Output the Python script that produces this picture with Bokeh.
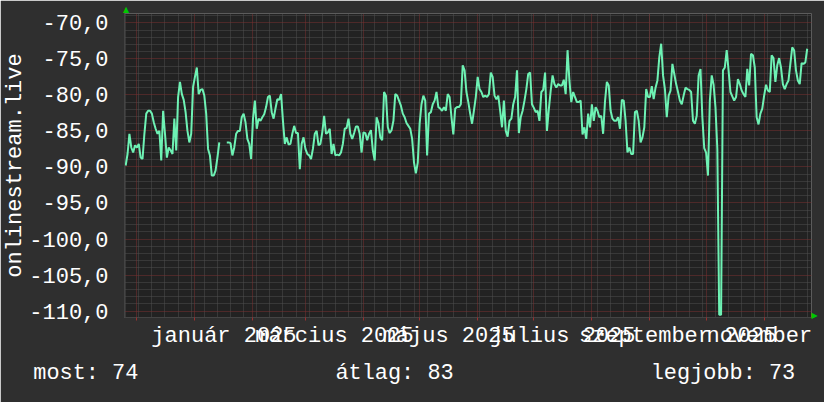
import numpy as np
import pandas as pd
from bokeh.plotting import figure
from bokeh.models import Range1d, FixedTicker, Grid, ColumnDataSource, LinearAxis, Title
from bokeh.embed import file_html
from bokeh.resources import INLINE

nan = float("nan")

# ---- data (daily values) ----
start_date = "2024-11-25"
signal = [
    -89.8, -88.2, -85.4, -87.3, -88.0, -87.0,
    -87.3, -86.8, -88.7, -88.9, -85.4, -82.6, -82.2, -82.2, -82.6, -83.8,
    -84.7, -85.4, -85.0, -89.1, -82.2, -85.4, -88.7, -87.3, -87.7, -88.2,
    -83.3, -87.7, -80.3, -78.2, -79.9, -80.7, -82.4, -85.0, -86.6, -85.4,
    -78.9, -77.5, -76.2, -79.9, -79.3, -79.2, -80.1, -82.6, -87.5, -88.4,
    -91.2, -91.2, -90.5, -88.7, -86.6, nan, nan, nan, -86.6, -86.6,
    -86.7, -88.4, -87.3, -85.4, -85.0, -85.0, -83.1, -82.6, -83.8, -86.1,
    -86.8, -88.9, -83.3, -80.8, -84.7, -83.3, -83.6, -83.1, -82.7, -81.7,
    -80.3, -80.1, -82.4, -83.3, -81.9, -80.6, -80.7, -79.9, -83.6, -86.8,
    -85.9, -86.9, -86.8, -85.4, -84.3, -85.3, -85.3, -90.3, -86.8, -85.9,
    -87.5, -88.2, -88.4, -88.9, -87.5, -85.4, -85.0, -87.0, -86.8, -85.2,
    -82.9, -85.4, -85.2, -84.7, -88.2, -86.8, -88.4, -88.3, -88.4, -88.0,
    -86.8, -84.7, -84.6, -83.3, -85.4, -86.1, -85.3, -84.4, -84.4, -85.4,
    -88.0, -85.2, -85.3, -86.3, -85.4, -84.9, -87.7, -89.1, -83.1, -83.9,
    -85.9, -86.3, -79.6, -80.1, -84.5, -85.3, -84.9, -83.6, -79.9, -80.1,
    -80.8, -81.5, -82.6, -83.1, -83.9, -84.3, -84.7, -86.1, -89.4, -90.9,
    -89.4, -84.0, -81.3, -80.1, -80.8, -88.4, -82.6, -82.4, -81.3, -80.8,
    -79.6, -81.7, -81.9, -82.2, -81.7, -82.2, -79.9, -80.3, -83.1, -85.5,
    -81.9, -81.7, -81.7, -81.3, -75.9, -76.6, -79.6, -81.0, -82.6, -84.0,
    -82.2, -80.3, -77.5, -79.2, -79.6, -80.3, -80.1, -80.3, -79.9, -76.9,
    -77.5, -80.1, -80.6, -80.1, -82.2, -84.5, -80.8, -85.0, -85.8, -83.6,
    -83.3, -81.3, -80.3, -76.6, -85.3, -83.1, -82.2, -80.8, -79.2, -77.1,
    -76.9, -81.3, -81.8, -82.4, -82.2, -83.6, -79.6, -79.3, -76.9, -85.0,
    -82.0, -79.4, -77.3, -78.5, -79.0, -78.5, -78.7, -78.7, -77.9, -79.9,
    -73.8, -78.0, -81.0, -79.6, -80.3, -81.0, -81.0, -80.8, -85.5, -84.5,
    -86.1, -82.6, -84.5, -81.3, -83.6, -81.7, -82.2, -83.1, -82.9, -85.4,
    -80.9, -78.2, -78.7, -82.2, -83.3, -83.6, -83.6, -83.1, -84.7, -80.7,
    -80.8, -83.6, -88.0, -87.3, -88.2, -88.2, -82.4, -82.2, -83.6, -86.6,
    -85.9, -84.5, -79.2, -80.3, -80.3, -78.8, -80.6, -79.0, -78.0, -74.8,
    -72.9, -77.3, -79.2, -83.1, -80.1, -79.4, -75.7, -77.1, -78.5, -79.6,
    -80.8, -81.3, -80.1, -79.0, -79.2, -79.3, -79.6, -83.6, -84.0, -82.9,
    -77.3, -76.4, -83.1, -87.4, -88.0, -91.2, -80.8, -77.3, -78.6, -81.7,
    -87.5, -110.5, -110.5, -76.6, -76.2, -73.8, -76.6, -79.6, -80.2, -80.8,
    -80.3, -77.8, -78.5, -79.4, -79.9, -80.3, -76.4, -78.7, -74.3, -74.5,
    -76.2, -83.1, -84.1, -82.6, -81.9, -80.1, -78.6, -79.4, -79.6, -74.5,
    -74.9, -78.2, -75.9, -74.9, -76.2, -78.5, -79.2, -78.5, -78.0, -75.7,
    -73.4, -73.8, -76.6, -78.0, -78.5, -75.6, -75.7, -75.5, -73.6,
]

y_ticks = [-70, -75, -80, -85, -90, -95, -100, -105, -110]
y_tick_labels = ["-70,0", "-75,0", "-80,0", "-85,0", "-90,0", "-95,0",
                 "-100,0", "-105,0", "-110,0"]
x_label_months = ["2025-01", "2025-03", "2025-05", "2025-07", "2025-09", "2025-11"]
x_tick_labels = ["január 2025", "március 2025", "május 2025", "július 2025",
                 "szeptember 2025", "november 2025"]
y_title = "onlinestream.live"
legend_texts = ["most: 74", "átlag: 83", "legjobb: 73"]

x_start = pd.Timestamp("2024-11-24 09:00")
x_end = pd.Timestamp("2025-11-26 07:00")
y_min, y_max = -110.89, -68.71

FONT = "Liberation Mono"
FS = "22px"
TXT = "#ffffff"
GREEN = "#00c800"
NB = "\u00a0"

W, H = 824, 402
BL, BR, BT, BB = 123, 13, 13, 85


def ms(ts):
    return float(pd.Timestamp(ts).value // 10**6)


dates = pd.date_range(start_date, periods=len(signal), freq="D")
src = ColumnDataSource(dict(date=dates, value=np.array(signal, dtype=float)))

p = figure(width=W, height=H, x_axis_type="datetime",
           x_range=Range1d(x_start, x_end), y_range=Range1d(y_min, y_max),
           output_backend="svg", toolbar_location=None,
           min_border_left=BL, min_border_right=BR, min_border_top=BT,
           min_border_bottom=BB,
           background_fill_color="#222222", border_fill_color="#2f2f2f",
           outline_line_color=None)
p.grid.visible = False

# grids
week_ticks = [ms(d) for d in pd.date_range("2024-11-25", "2025-11-26", freq="W-MON")]
month_ticks = [ms(d) for d in pd.date_range("2024-12-01", "2025-11-01", freq="MS")]
minor_y = [v for v in range(-110, -68) if v % 5 != 0]

GRAY = "#4e4e4e"
RED = "#7a3030"
p.add_layout(Grid(dimension=0, ticker=FixedTicker(ticks=week_ticks),
                  grid_line_color=GRAY, grid_line_dash="1 1", grid_line_width=1))
p.add_layout(Grid(dimension=1, ticker=FixedTicker(ticks=minor_y),
                  grid_line_color=GRAY, grid_line_dash="1 1", grid_line_width=1))
p.add_layout(Grid(dimension=0, ticker=FixedTicker(ticks=month_ticks),
                  grid_line_color=RED, grid_line_dash="1 1", grid_line_width=1))
p.add_layout(Grid(dimension=1, ticker=FixedTicker(ticks=y_ticks),
                  grid_line_color=RED, grid_line_dash="1 1", grid_line_width=1))

# data line
p.line(x="date", y="value", source=src, line_color="#6ef2b4", line_width=2)

# y axis (with title)
ya = p.yaxis[0]
ya.ticker = FixedTicker(ticks=y_ticks)
ya.major_label_overrides = {float(t): l for t, l in zip(y_ticks, y_tick_labels)}
ya.major_tick_line_color = None
ya.major_tick_in = 0
ya.major_tick_out = 0
ya.minor_tick_line_color = None
ya.axis_line_color = "#444444"
ya.major_label_text_font = FONT
ya.major_label_text_font_size = FS
ya.major_label_text_color = TXT
ya.major_label_standoff = 16
ya.axis_label = y_title
ya.axis_label_text_font = FONT
ya.axis_label_text_font_size = FS
ya.axis_label_text_font_style = "normal"
ya.axis_label_text_color = TXT
ya.axis_label_standoff = -2

# x axis: month labels centred on mid-month
px_per_day = (W - BL - BR) / ((x_end - x_start) / pd.Timedelta(days=1))
char_px = 0.6 * 22
label_pos = []
shown_labels = []
for m, lab in zip(x_label_months, x_tick_labels):
    a = pd.Timestamp(m + "-01")
    b = a + pd.offsets.MonthBegin(1)
    c = ms(a + (b - a) / 2)
    if m == x_label_months[-1]:
        # the year of the last label runs past the picture edge; only the
        # month name stays visible, at the place it has in the full label
        shown = lab.split(" ")[0]
        shift_px = (len(lab) - len(shown)) / 2 * char_px
        c -= shift_px / px_per_day * 86400000
        lab = shown
    label_pos.append(c)
    shown_labels.append(lab)

xa = p.xaxis[0]
xa.ticker = FixedTicker(ticks=label_pos, minor_ticks=month_ticks)
xa.major_label_overrides = {t: l for t, l in zip(label_pos, shown_labels)}
xa.major_tick_line_color = None
xa.major_tick_in = 0
xa.major_tick_out = 0
xa.minor_tick_line_color = "#9a3030"
xa.minor_tick_in = 0
xa.minor_tick_out = 3
xa.axis_line_color = "#444444"
xa.major_label_text_font = FONT
xa.major_label_text_font_size = FS
xa.major_label_text_color = TXT
xa.major_label_standoff = 3

# bottom legend line (monospace, spaced with nbsp) as a title below the axis
legend_line = (legend_texts[0] + NB * 15 + legend_texts[1] + NB * 15 +
               legend_texts[2])
legend = Title(text=legend_line, align="left", offset=-91.2,
               text_font=FONT, text_font_size="21.9px", text_font_style="normal",
               text_color=TXT, standoff=14)
p.add_layout(legend, "below")

# green axis arrows
top_tick = ms(x_start) + 0.9 * 86400000
top_arrow = LinearAxis(ticker=FixedTicker(ticks=[top_tick]),
                       axis_line_color=None, major_tick_line_color=None,
                       minor_tick_line_color=None, major_tick_out=0, major_tick_in=0,
                       major_label_standoff=0, major_label_text_color=GREEN,
                       major_label_text_font="DejaVu Sans",
                       major_label_text_font_size="8px")
top_arrow.major_label_overrides = {top_tick: "\u25b2"}
p.add_layout(top_arrow, "above")

right_tick = y_min + 0.24
right_arrow = LinearAxis(ticker=FixedTicker(ticks=[right_tick]),
                         axis_line_color=None, major_tick_line_color=None,
                         minor_tick_line_color=None, major_tick_out=0, major_tick_in=0,
                         major_label_standoff=0, major_label_text_color=GREEN,
                         major_label_text_font="DejaVu Sans",
                         major_label_text_font_size="8px")
right_arrow.major_label_overrides = {right_tick: "\u25b6"}
p.add_layout(right_arrow, "right")

open("out.html", "w").write(file_html(p, INLINE))
